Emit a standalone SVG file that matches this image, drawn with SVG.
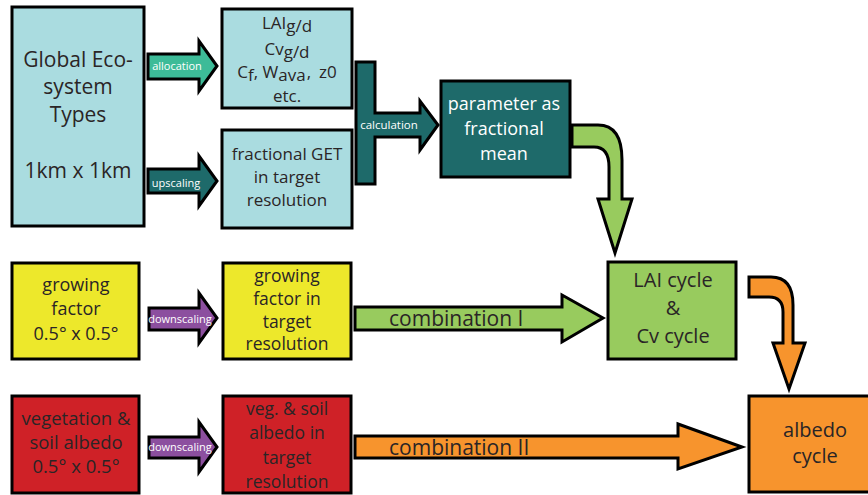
<svg xmlns="http://www.w3.org/2000/svg" width="868" height="495" viewBox="0 0 868 495">
<style>
.box{stroke:#000;stroke-width:3}
.arr{stroke:#000;stroke-width:3;stroke-linejoin:miter}
text{font-family:"Open Sans","Liberation Sans",sans-serif;fill:#2a2526;text-anchor:middle}
.w{fill:#fff}
.lbl{font-size:11px;fill:#fff}
.cyan{fill:#aadce0}
.teal{fill:#1e6a6a}
.mint{fill:#3dbb98}
.yel{fill:#ede82b}
.pur{fill:#8c4f9f}
.grn{fill:#98cb5e}
.red{fill:#cf2127}
.org{fill:#f7942d}
</style>
<rect width="868" height="495" fill="#fff"/>
<g id="connectors">
<path class="arr mint" d="M148,54 L199,54 L199,41 L217,66 L199,91 L199,79 L148,79 Z"/>
<text class="lbl" x="177" y="70">allocation</text>
<path class="arr teal" d="M148,169 L199,169 L199,156 L217,181 L199,206 L199,193 L148,193 Z"/>
<text class="lbl" x="176" y="187">upscaling</text>
<path class="arr teal" d="M356,62 L375,62 L375,113 L420,113 L420,101 L438,125 L420,150 L420,137 L375,137 L375,184 L356,184 Z"/>
<text class="lbl" x="389" y="129" style="font-size:11.5px">calculation</text>
<path class="arr grn" d="M572,125 L598,125 Q622,125 622,160 L622,199 L632,199 L615,253 L598,199 L609,199 L609,167 Q609,147 594,147 L572,147 Z"/>
<path class="arr pur" d="M149,308 L199,308 L199,293 L217,318 L199,343 L199,330 L149,330 Z"/>
<text class="lbl" x="180" y="323">downscaling</text>
<path class="arr grn" d="M355,307 L562,307 L562,295 L603,318 L562,342 L562,330 L355,330 Z"/>
<text x="389" y="326" style="font-size:21px;text-anchor:start">combination I</text>
<path class="arr pur" d="M149,437 L199,437 L199,422 L217,447 L199,472 L199,458 L149,458 Z"/>
<text class="lbl" x="180" y="451">downscaling</text>
<path class="arr org" d="M355,436 L678,436 L678,424 L742,447 L678,469 L678,458 L355,458 Z"/>
<text x="389" y="455" style="font-size:21px;text-anchor:start">combination II</text>
<path class="arr org" d="M749,277 L771,277 Q793,277 793,305 L793,343 L805,343 L789,389 L773,343 L783,343 L783,312 Q783,297 769,297 L749,297 Z"/>
</g>
<g id="get">
<rect class="box cyan" x="12" y="7" width="132" height="219"/>
<text x="78" y="67" font-size="21">Global Eco-</text>
<text x="78" y="94" font-size="21">system</text>
<text x="78" y="122" font-size="21">Types</text>
<text x="78" y="178" font-size="21">1km x 1km</text>
</g>
<g id="params">
<rect class="box cyan" x="222" y="9" width="130" height="99"/>
<text x="287" y="29" font-size="17">LAI<tspan dy="3">g/d</tspan></text>
<text x="287" y="55" font-size="17">Cv<tspan dy="3">g/d</tspan></text>
<text x="287" y="78" font-size="17">C<tspan dy="3">f</tspan><tspan dy="-3">, W</tspan><tspan dy="3">ava</tspan><tspan dy="-3" dx="1">,</tspan><tspan dx="8">z0</tspan></text>
<text x="287" y="102" font-size="17">etc.</text>
</g>
<g id="fracget">
<rect class="box cyan" x="222" y="130" width="130" height="98"/>
<text x="287" y="160" font-size="17">fractional GET</text>
<text x="287" y="183" font-size="17">in target</text>
<text x="287" y="206" font-size="17">resolution</text>
</g>
<g id="fracmean">
<rect class="box teal" x="441" y="81" width="129" height="96"/>
<text class="w" x="504" y="110" font-size="18">parameter as</text>
<text class="w" x="504" y="135" font-size="18">fractional</text>
<text class="w" x="504" y="160" font-size="18">mean</text>
</g>
<g id="growing">
<rect class="box yel" x="12" y="263" width="127" height="96"/>
<text x="76" y="291" font-size="18">growing</text>
<text x="76" y="315" font-size="18">factor</text>
<text x="76" y="340" font-size="18">0.5° x 0.5°</text>
</g>
<g id="growingtarget">
<rect class="box yel" x="223" y="263" width="128" height="96"/>
<text x="287" y="282" font-size="17.5">growing</text>
<text x="287" y="305" font-size="17.5">factor in</text>
<text x="287" y="328" font-size="17.5">target</text>
<text x="287" y="350" font-size="17.5">resolution</text>
</g>
<g id="laicycle">
<rect class="box grn" x="608" y="262" width="128" height="97"/>
<text x="673" y="287" font-size="20">LAI cycle</text>
<text x="673" y="315" font-size="20">&amp;</text>
<text x="673" y="343" font-size="20">Cv cycle</text>
</g>
<g id="soilalbedo">
<rect class="box red" x="12" y="396" width="127" height="97"/>
<text x="76" y="425" font-size="18.5">vegetation &amp;</text>
<text x="76" y="449" font-size="18.5">soil albedo</text>
<text x="76" y="473" font-size="18.5">0.5° x 0.5°</text>
</g>
<g id="soiltarget">
<rect class="box red" x="223" y="396" width="128" height="97"/>
<text x="287" y="415" font-size="17.5">veg. &amp; soil</text>
<text x="287" y="439" font-size="17.5">albedo in</text>
<text x="287" y="464" font-size="17.5">target</text>
<text x="287" y="488" font-size="17.5">resolution</text>
</g>
<g id="albedocycle">
<rect class="box org" x="749" y="396" width="122" height="96"/>
<text x="815" y="437" font-size="20">albedo</text>
<text x="815" y="463" font-size="20">cycle</text>
</g>
</svg>
